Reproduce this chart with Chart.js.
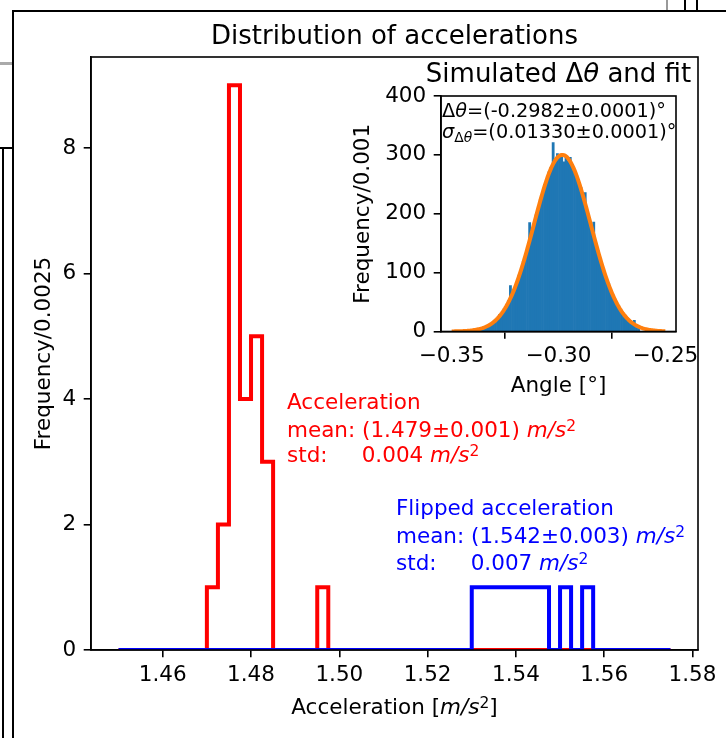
<!DOCTYPE html>
<html>
<head>
<meta charset="utf-8">
<title>Distribution of accelerations</title>
<script src="https://cdn.jsdelivr.net/npm/chart.js@4.4.1/dist/chart.umd.min.js"></script>
<style>
  html, body { margin: 0; padding: 0; background: #fff; }
  #figure { position: relative; width: 726px; height: 738px; overflow: hidden; background: #fff; }
  #figure canvas { position: absolute; }
  .rule { position: absolute; background: #000; }
</style>
</head>
<body>
<div id="figure">
  <canvas id="accelChart" width="726" height="738" style="left:0;top:0"></canvas>
  <canvas id="angleChart" width="396" height="365" style="left:330px;top:45px"></canvas>
  <!-- window edges around the figure -->
  <div class="rule" style="left:12px;top:10px;width:714px;height:2px"></div>
  <div class="rule" style="left:12px;top:10px;width:2px;height:728px"></div>
  <div class="rule" style="left:0;top:62px;width:12px;height:3px;background:#aaa"></div>
  <div class="rule" style="left:0;top:147px;width:12px;height:2px"></div>
  <div class="rule" style="left:2px;top:147px;width:2px;height:591px"></div>
  <div class="rule" style="left:666px;top:0;width:2px;height:10px;background:#999"></div>
  <div class="rule" style="left:684px;top:0;width:2px;height:10px"></div>
  <div class="rule" style="left:696px;top:0;width:2px;height:10px"></div>
</div>
<script>
const FONT = '"DejaVu Sans", sans-serif';
const TEXT = 21.5;   // normal label size
const BIG = 26;      // titles

// acceleration histograms: 50 bins of 0.0025 starting at 1.45
const accelBinStart = 1.45;
const accelBinWidth = 0.0025;
const accelCounts = [
  0, 0, 0, 0, 0, 0, 0, 0, 1, 2,
  9, 4, 5, 3, 0, 0, 0, 0, 1, 0,
  0, 0, 0, 0, 0, 0, 0, 0, 0, 0,
  0, 0, 0, 0, 0, 0, 0, 0, 0, 0,
  0, 0, 0, 0, 0, 0, 0, 0, 0, 0
];
const flippedCounts = [
  0, 0, 0, 0, 0, 0, 0, 0, 0, 0,
  0, 0, 0, 0, 0, 0, 0, 0, 0, 0,
  0, 0, 0, 0, 0, 0, 0, 0, 0, 0,
  0, 0, 1, 1, 1, 1, 1, 1, 1, 0,
  1, 0, 1, 0, 0, 0, 0, 0, 0, 0
];
const accelTicks = [1.46, 1.48, 1.50, 1.52, 1.54, 1.56, 1.58];
const freqTicks = [0, 2, 4, 6, 8];

// simulated angle offsets: bins of 0.001 starting at -0.338
const angleBinStart = -0.338;
const angleBinWidth = 0.001;
const angleCounts = [
  2, 5, 4, 8, 7, 11, 14, 13, 20, 22,
  29, 30, 38, 41, 52, 78, 63, 75, 81, 96,
  103, 119, 126, 144, 185, 166, 180, 198, 206, 225,
  232, 250, 255, 271, 279, 321, 293, 302, 296, 299,
  288, 298, 290, 296, 284, 270, 266, 250, 245, 232,
  236, 204, 192, 178, 186, 150, 138, 121, 113, 98,
  91, 82, 68, 62, 55, 45, 41, 33, 30, 24,
  21, 16, 14, 19, 9, 7
];
// gaussian fit result
const fitMean = -0.2982;
const fitSigma = 0.01330;
const fitAmplitude = 300;
const fitRange = [-0.35, -0.25];
const angleTicks = [-0.35, -0.30, -0.25];
const angleFreqTicks = [0, 100, 200, 300, 400];

Chart.defaults.font.family = FONT;
Chart.defaults.color = '#000';

// outline of a step histogram, one point per bin edge
function edgeSteps(start, width, counts) {
  const pts = counts.map((c, i) => ({ x: start + i * width, y: c }));
  pts.push({ x: start + counts.length * width, y: 0 });
  return pts;
}

// text made of runs with italic / superscript / subscript parts
function drawRich(ctx, x, y, runs, size, color, align) {
  const pieces = runs.map(r => {
    const small = r.sup || r.sub;
    const font = (r.it ? 'italic ' : '') + (small ? size * 0.72 : size) + 'px ' + FONT;
    ctx.font = font;
    return { text: r.t, font, w: ctx.measureText(r.t).width,
             dy: r.sup ? -size * 0.27 : r.sub ? size * 0.22 : 0 };
  });
  const total = pieces.reduce((s, p) => s + p.w, 0);
  let cx = align === 'center' ? x - total / 2 : x;
  ctx.save();
  ctx.fillStyle = color;
  ctx.textAlign = 'left';
  ctx.textBaseline = 'alphabetic';
  for (const p of pieces) {
    ctx.font = p.font;
    ctx.fillText(p.text, cx, y + p.dy);
    cx += p.w;
  }
  ctx.restore();
}

const unit = [{ t: 'm/s', it: true }, { t: '2', sup: true }];

const axesFrame = {
  id: 'axesFrame',
  afterDatasetsDraw(chart) {
    const { ctx, chartArea: a } = chart;
    ctx.save();
    ctx.strokeStyle = '#000';
    ctx.lineWidth = 1.6;
    ctx.strokeRect(a.left, a.top, a.right - a.left, a.bottom - a.top);
    ctx.restore();
  }
};

const accelText = {
  id: 'accelText',
  afterDraw(chart) {
    const ctx = chart.ctx;
    const a = chart.chartArea;
    const cx = (a.left + a.right) / 2;
    drawRich(ctx, cx, 44, [{ t: 'Distribution of accelerations' }], BIG, '#000', 'center');
    drawRich(ctx, cx, 714, [{ t: 'Acceleration [' }, ...unit, { t: ']' }], TEXT, '#000', 'center');

    const red = '#ff0000', blue = '#0000ff';
    drawRich(ctx, 287, 408.5, [{ t: 'Acceleration' }], TEXT, red);
    drawRich(ctx, 287, 436.5, [{ t: 'mean: (1.479\u00b10.001) ' }, ...unit], TEXT, red);
    drawRich(ctx, 287, 462, [{ t: 'std:     0.004 ' }, ...unit], TEXT, red);
    drawRich(ctx, 396, 515, [{ t: 'Flipped acceleration' }], TEXT, blue);
    drawRich(ctx, 396, 543, [{ t: 'mean: (1.542\u00b10.003) ' }, ...unit], TEXT, blue);
    drawRich(ctx, 396, 569.5, [{ t: 'std:     0.007 ' }, ...unit], TEXT, blue);
  }
};

function axisStyle(ticks, fmt, pad) {
  return {
    afterBuildTicks: s => { s.ticks = ticks.map(v => ({ value: v })); },
    grid: { display: true, drawOnChartArea: false, drawTicks: true, tickLength: 7.3, color: '#000', lineWidth: 1.6 },
    border: { display: true, color: '#000', width: 1.6 },
    ticks: { color: '#000', font: { size: TEXT }, padding: pad, maxRotation: 0, autoSkip: false, callback: fmt }
  };
}

const accelLo = accelBinStart;
const accelHi = accelBinStart + accelCounts.length * accelBinWidth;
const accelPad = 0.05 * (accelHi - accelLo);
const accelTop = 1.05 * Math.max(...accelCounts, ...flippedCounts);

const stepStyle = {
  stepped: true, pointRadius: 0, borderWidth: 4, fill: false, clip: 0,
  borderJoinStyle: 'miter', borderCapStyle: 'butt'
};

new Chart(document.getElementById('accelChart'), {
  type: 'line',
  data: {
    datasets: [
      { label: 'Flipped acceleration', data: edgeSteps(accelBinStart, accelBinWidth, flippedCounts),
        borderColor: '#0000ff', order: 0, ...stepStyle },
      { label: 'Acceleration', data: edgeSteps(accelBinStart, accelBinWidth, accelCounts),
        borderColor: '#ff0000', order: 1, ...stepStyle }
    ]
  },
  options: {
    responsive: false,
    maintainAspectRatio: false,
    devicePixelRatio: 1,
    animation: false,
    events: [],
    layout: { padding: { top: 57, right: 28, left: 0, bottom: 0 } },
    plugins: { legend: { display: false }, tooltip: { enabled: false } },
    scales: {
      x: {
        type: 'linear', min: accelLo - accelPad, max: accelHi + accelPad,
        ...axisStyle(accelTicks, v => v.toFixed(2), 5),
        afterFit: s => { s.height = 88; }
      },
      y: {
        type: 'linear', min: 0, max: accelTop,
        ...axisStyle(freqTicks, v => String(v), 7.5),
        afterFit: s => { s.width = 91; },
        title: { display: true, text: 'Frequency/0.0025', color: '#000', font: { size: TEXT }, padding: { top: 31.5, bottom: 0 } }
      }
    }
  },
  plugins: [axesFrame, accelText]
});

// inset: simulated angle histogram with its gaussian fit
const angleBars = angleCounts.map((c, i) => ({ x: angleBinStart + (i + 0.5) * angleBinWidth, y: c }));
const fitCurve = [];
for (let i = 0; i <= 200; i++) {
  const x = fitRange[0] + i * (fitRange[1] - fitRange[0]) / 200;
  fitCurve.push({ x, y: fitAmplitude * Math.exp(-0.5 * ((x - fitMean) / fitSigma) ** 2) });
}
const anglePad = 0.05 * (fitRange[1] - fitRange[0]);

const angleText = {
  id: 'angleText',
  afterDraw(chart) {
    const ctx = chart.ctx;
    const a = chart.chartArea;
    drawRich(ctx, (a.left + a.right) / 2, 36.5,
      [{ t: 'Simulated \u0394' }, { t: '\u03b8', it: true }, { t: ' and fit' }], BIG, '#000', 'center');
    drawRich(ctx, a.left + 1, 71.7,
      [{ t: '\u0394' }, { t: '\u03b8', it: true }, { t: '=(-0.2982\u00b10.0001)\u00b0' }], 19.3, '#000');
    drawRich(ctx, a.left + 1, 92.7,
      [{ t: '\u03c3', it: true }, { t: '\u0394', sub: true }, { t: '\u03b8', it: true, sub: true },
       { t: '=(0.01330\u00b10.0001)\u00b0' }], 19.3, '#000');
  }
};

new Chart(document.getElementById('angleChart'), {
  type: 'bar',
  data: {
    datasets: [
      { type: 'line', label: 'fit', data: fitCurve, borderColor: '#ff7f0e', borderWidth: 4,
        pointRadius: 0, fill: false, tension: 0, order: 0, clip: 0 },
      { type: 'bar', label: 'simulated', data: angleBars, backgroundColor: '#1f77b4',
        borderWidth: 0, barPercentage: 1, categoryPercentage: 1, order: 1, clip: 0 }
    ]
  },
  options: {
    responsive: false,
    maintainAspectRatio: false,
    devicePixelRatio: 1,
    animation: false,
    events: [],
    layout: { padding: { top: 51, right: 50, left: 0, bottom: 0 } },
    plugins: { legend: { display: false }, tooltip: { enabled: false } },
    scales: {
      x: {
        type: 'linear', offset: false,
        min: fitRange[0] - anglePad, max: fitRange[1] + anglePad,
        ...axisStyle(angleTicks, v => (v < 0 ? '\u2212' : '') + Math.abs(v).toFixed(2), 4.5),
        afterFit: s => { s.height = 78.5; },
        title: { display: true, text: 'Angle [\u00b0]', color: '#000', font: { size: TEXT }, padding: { top: 0, bottom: 10.5 } }
      },
      y: {
        type: 'linear', min: 0, max: 400,
        ...axisStyle(angleFreqTicks, v => String(v), 7.5),
        afterFit: s => { s.width = 111; },
        title: { display: true, text: 'Frequency/0.001', color: '#000', font: { size: TEXT }, padding: { top: 21, bottom: 0 } }
      }
    }
  },
  plugins: [axesFrame, angleText]
});
</script>
</body>
</html>
